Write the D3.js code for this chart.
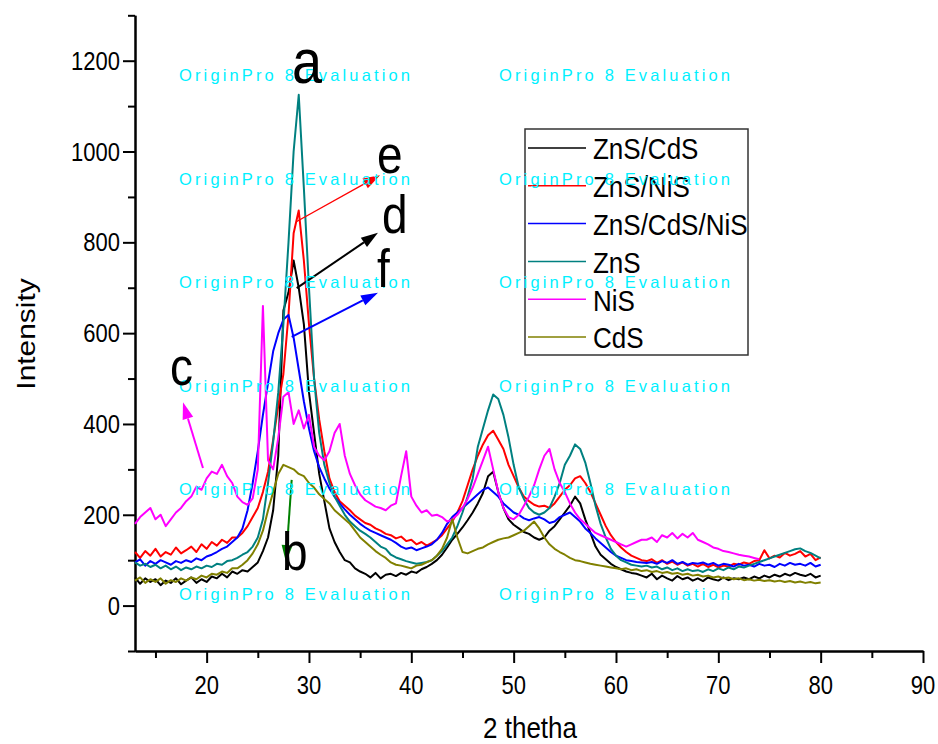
<!DOCTYPE html>
<html>
<head>
<meta charset="utf-8">
<script src="https://cdn.jsdelivr.net/npm/d3@7/dist/d3.min.js"></script>
<style>
body { margin: 0; background: #fff; }
svg { display: block; }
text { font-family: "Liberation Sans", Arial, sans-serif; }
</style>
</head>
<body>
<div id="chart"></div>
<script>

// 2 theta sampling grid, 13..80 deg every 0.5
var thetas = d3.range(0, 135).map(function(i) { return 13 + i * 0.5; });

// intensities, one value per grid step
var znsCds = [62,48,60,52,58,45,55,50,60,47,
  55,62,50,58,52,64,60,70,62,75,
  70,78,75,85,95,120,150,210,330,650,
  690,760,700,620,470,380,290,230,170,140,
  118,100,95,82,75,70,62,72,60,68,
  70,65,72,68,75,72,80,85,92,100,
  112,128,145,158,172,188,205,225,248,285,
  295,250,215,190,178,170,162,158,150,145,
  150,165,175,190,205,220,240,225,190,160,
  130,112,102,92,85,80,75,72,70,66,
  62,70,58,66,60,55,65,58,62,55,
  60,54,62,58,55,62,56,60,58,62,
  58,64,60,66,62,68,64,70,66,72,
  68,65,70,62,66];

var znsNis = [118,105,120,110,125,108,118,112,128,115,
  122,130,118,135,125,140,132,145,138,150,
  150,160,175,195,215,250,295,365,440,510,
  640,820,870,760,620,500,410,340,280,250,
  230,220,210,198,190,182,178,170,165,158,
  155,148,152,142,145,135,140,132,138,145,
  155,170,185,205,230,265,300,330,355,375,
  385,365,345,310,285,260,240,230,222,218,
  220,215,225,240,255,265,280,285,270,250,
  225,200,175,155,140,128,118,110,105,100,
  98,102,94,100,92,97,90,95,88,92,
  86,92,85,90,84,88,86,92,90,95,
  92,98,100,122,104,110,106,116,110,114,
  120,108,114,100,106];

var znsCdsNis = [95,102,88,98,92,100,95,90,98,94,
  100,96,104,100,108,112,118,125,130,140,
  150,170,210,270,340,420,490,560,600,630,
  640,590,520,450,390,340,305,280,258,240,
  225,212,200,190,180,172,165,160,155,150,
  145,138,130,125,128,122,126,130,135,145,
  160,180,195,205,215,225,235,245,255,260,
  250,240,225,215,205,200,192,188,192,195,
  190,182,185,195,200,205,195,185,170,160,
  148,138,128,118,110,105,100,98,96,95,
  94,96,92,98,94,100,92,96,90,94,
  92,95,90,94,88,92,90,86,92,88,
  90,86,92,88,90,85,92,88,94,90,
  92,88,94,86,90];

var zns = [95,88,92,85,90,82,88,80,86,78,
  84,80,86,82,88,85,92,90,98,100,
  105,112,118,130,150,190,270,360,470,620,
  800,1000,1125,920,700,500,380,310,270,240,
  220,200,185,175,165,158,150,140,130,125,
  112,106,102,98,95,92,94,96,100,110,
  120,135,150,175,205,240,280,350,390,430,
  465,455,420,370,310,260,235,215,205,200,
  205,215,240,270,310,330,355,345,315,270,
  220,180,150,125,110,100,95,90,88,86,
  88,84,86,80,84,78,82,76,80,76,
  78,74,80,76,82,78,84,80,86,84,
  88,92,96,100,104,108,112,116,120,124,
  126,120,116,110,104];

// NiS scan stops near 74 deg
var nis = [180,195,205,215,190,200,175,190,205,215,
  230,240,262,255,280,295,290,310,285,270,
  240,228,222,236,300,660,320,300,370,460,
  470,400,430,390,420,350,330,320,340,380,
  400,330,290,265,245,232,225,218,215,210,
  220,225,285,340,240,220,205,210,198,200,
  195,185,190,200,215,235,260,290,320,350,
  300,250,215,195,190,200,220,240,265,300,
  330,345,300,270,250,225,205,190,180,170,
  160,155,150,145,140,135,130,135,140,145,
  145,150,140,155,150,160,148,158,150,160,
  145,140,135,128,125,120,118,115,112,110,
  108,105,102];

var cds = [55,62,50,58,52,60,48,56,52,60,
  55,62,58,66,62,70,68,75,72,82,
  82,90,100,115,135,165,210,250,290,310,
  305,300,290,285,270,260,245,235,225,210,
  200,190,180,165,150,140,130,120,112,105,
  95,90,88,85,82,88,90,95,100,110,
  125,150,190,150,118,115,120,125,128,135,
  140,145,148,150,155,160,165,175,185,170,
  150,135,125,118,112,105,100,98,95,92,
  90,88,86,84,82,80,82,78,80,76,
  78,74,76,72,74,70,72,68,70,66,
  68,64,66,62,64,60,62,58,60,56,
  58,55,57,54,56,53,55,52,54,51,
  53,50,52,49,51];

var seriesNames = ["ZnS/CdS", "ZnS/NiS", "ZnS/CdS/NiS", "ZnS", "NiS", "CdS"];
var seriesValues = [znsCds, znsNis, znsCdsNis, zns, nis, cds];
var seriesColors = ["#000000", "#ff0000", "#0000ff", "#008080", "#ff00ff", "#808000"];

var xMajorTicks = [20, 30, 40, 50, 60, 70, 80, 90];
var xMinorTicks = [15, 25, 35, 45, 55, 65, 75, 85];
var yMajorTicks = [0, 200, 400, 600, 800, 1000, 1200];
var yMinorTicks = [-100, 100, 300, 500, 700, 900, 1100, 1300];

// peak letters and their arrows, in data units
var letters = [
  {t: "a", x: 28.34, y: 1151, size: 54},
  {t: "e", x: 36.65, y: 953, size: 46},
  {t: "d", x: 37.14, y: 821, size: 46},
  {t: "f", x: 36.65, y: 702, size: 46},
  {t: "c", x: 16.42, y: 486, size: 46},
  {t: "b", x: 27.36, y: 78, size: 46}
];
var arrows = [
  {x1: 28.8, y1: 846, x2: 36.94, y2: 948, color: "#ff0000", w: 1.3},
  {x1: 28.8, y1: 699, x2: 36.74, y2: 821, color: "#000000", w: 2},
  {x1: 28.31, y1: 592, x2: 36.74, y2: 689, color: "#0000ff", w: 2},
  {x1: 19.64, y1: 303, x2: 17.69, y2: 448, color: "#ff00ff", w: 2},
  {x1: 28.31, y1: 277, x2: 27.75, y2: 96, color: "#008000", w: 2}
];

var W = 938, H = 744;
var STRETCH = 1.15;   // the original export is a bit taller than wide

var svg = d3.select("#chart").append("svg")
  .attr("width", W)
  .attr("height", H);

var x = d3.scaleLinear().domain([13, 90]).range([135, 923]);
var y = d3.scaleLinear().domain([-100, 1300]).range([651, 15.3]);

function stretchedText(parent, px, py, str, size, anchor) {
  var g = parent.append("g")
    .attr("transform", "translate(" + px + "," + py + ") scale(1," + STRETCH + ")");
  return g.append("text")
    .attr("x", 0)
    .attr("y", 0)
    .attr("text-anchor", anchor || "start")
    .style("font-size", size + "px")
    .attr("fill", "#000")
    .text(str);
}

// axes
var xMajor = d3.axisBottom(x).tickValues(xMajorTicks).tickSize(12).tickSizeOuter(0).tickFormat("");
var xMinor = d3.axisBottom(x).tickValues(xMinorTicks).tickSize(7).tickSizeOuter(0).tickFormat("");
var yMajor = d3.axisLeft(y).tickValues(yMajorTicks).tickSize(12).tickSizeOuter(0).tickFormat("");
var yMinor = d3.axisLeft(y).tickValues(yMinorTicks).tickSize(7).tickSizeOuter(0).tickFormat("");

[[xMajor, "translate(0,651)"], [xMinor, "translate(0,651)"],
 [yMajor, "translate(135,0)"], [yMinor, "translate(135,0)"]].forEach(function(a) {
  var g = svg.append("g").attr("transform", a[1]).call(a[0]);
  g.selectAll("path, line").attr("stroke", "#000").attr("stroke-width", 2);
});

xMajorTicks.forEach(function(v) {
  stretchedText(svg, x(v), 694, String(v), 22, "middle");
});
yMajorTicks.forEach(function(v) {
  stretchedText(svg, 120, y(v) + 9, String(v), 22, "end");
});

stretchedText(svg, 530, 738, "2 thetha", 26, "middle");

svg.append("g")
  .attr("transform", "translate(35,334) scale(1," + STRETCH + ") rotate(-90)")
  .append("text")
  .attr("text-anchor", "middle")
  .style("font-size", "26px")
  .text("Intensity");

// patterns
var line = d3.line()
  .x(function(d) { return x(d[0]); })
  .y(function(d) { return y(d[1]); });

seriesValues.forEach(function(vals, i) {
  var pts = vals.map(function(v, j) { return [thetas[j], v]; });
  svg.append("path")
    .datum(pts)
    .attr("fill", "none")
    .attr("stroke", seriesColors[i])
    .attr("stroke-width", 2)
    .attr("stroke-linejoin", "round")
    .attr("d", line);
});

// legend
var legend = svg.append("g");
legend.append("rect")
  .attr("x", 525).attr("y", 129)
  .attr("width", 223).attr("height", 226)
  .attr("fill", "none")
  .attr("stroke", "#333")
  .attr("stroke-width", 1.5);
seriesNames.forEach(function(name, i) {
  var ly = 148 + i * 37.8;
  legend.append("line")
    .attr("x1", 528).attr("x2", 586)
    .attr("y1", ly).attr("y2", ly)
    .attr("stroke", seriesColors[i])
    .attr("stroke-width", 1.5);
  stretchedText(legend, 593, ly + 11.3, name, 26, "start");
});

// arrows
arrows.forEach(function(a) {
  var x1 = x(a.x1), y1 = y(a.y1), x2 = x(a.x2), y2 = y(a.y2);
  var ang = Math.atan2(y2 - y1, x2 - x1);
  var len = 17, half = 5.5;
  var bx = x2 - len * Math.cos(ang), by = y2 - len * Math.sin(ang);
  svg.append("line")
    .attr("x1", x1).attr("y1", y1)
    .attr("x2", bx).attr("y2", by)
    .attr("stroke", a.color)
    .attr("stroke-width", a.w);
  svg.append("path")
    .attr("d", "M" + x2 + "," + y2 +
      "L" + (bx + half * Math.sin(ang)) + "," + (by - half * Math.cos(ang)) +
      "L" + (bx - half * Math.sin(ang)) + "," + (by + half * Math.cos(ang)) + "Z")
    .attr("fill", a.color);
});

// evaluation watermark
var wmCols = [179, 499];
var wmRows = [81, 185, 288, 392, 495, 600];
wmRows.forEach(function(wy) {
  wmCols.forEach(function(wx) {
    svg.append("text")
      .attr("x", wx).attr("y", wy)
      .attr("textLength", 231)
      .attr("lengthAdjust", "spacing")
      .style("font-size", "16.5px")
      .attr("fill", "#00f0ff")
      .text("OriginPro 8 Evaluation");
  });
});

letters.forEach(function(l) {
  stretchedText(svg, x(l.x), y(l.y), l.t, l.size, "start");
});

</script>
</body>
</html>
